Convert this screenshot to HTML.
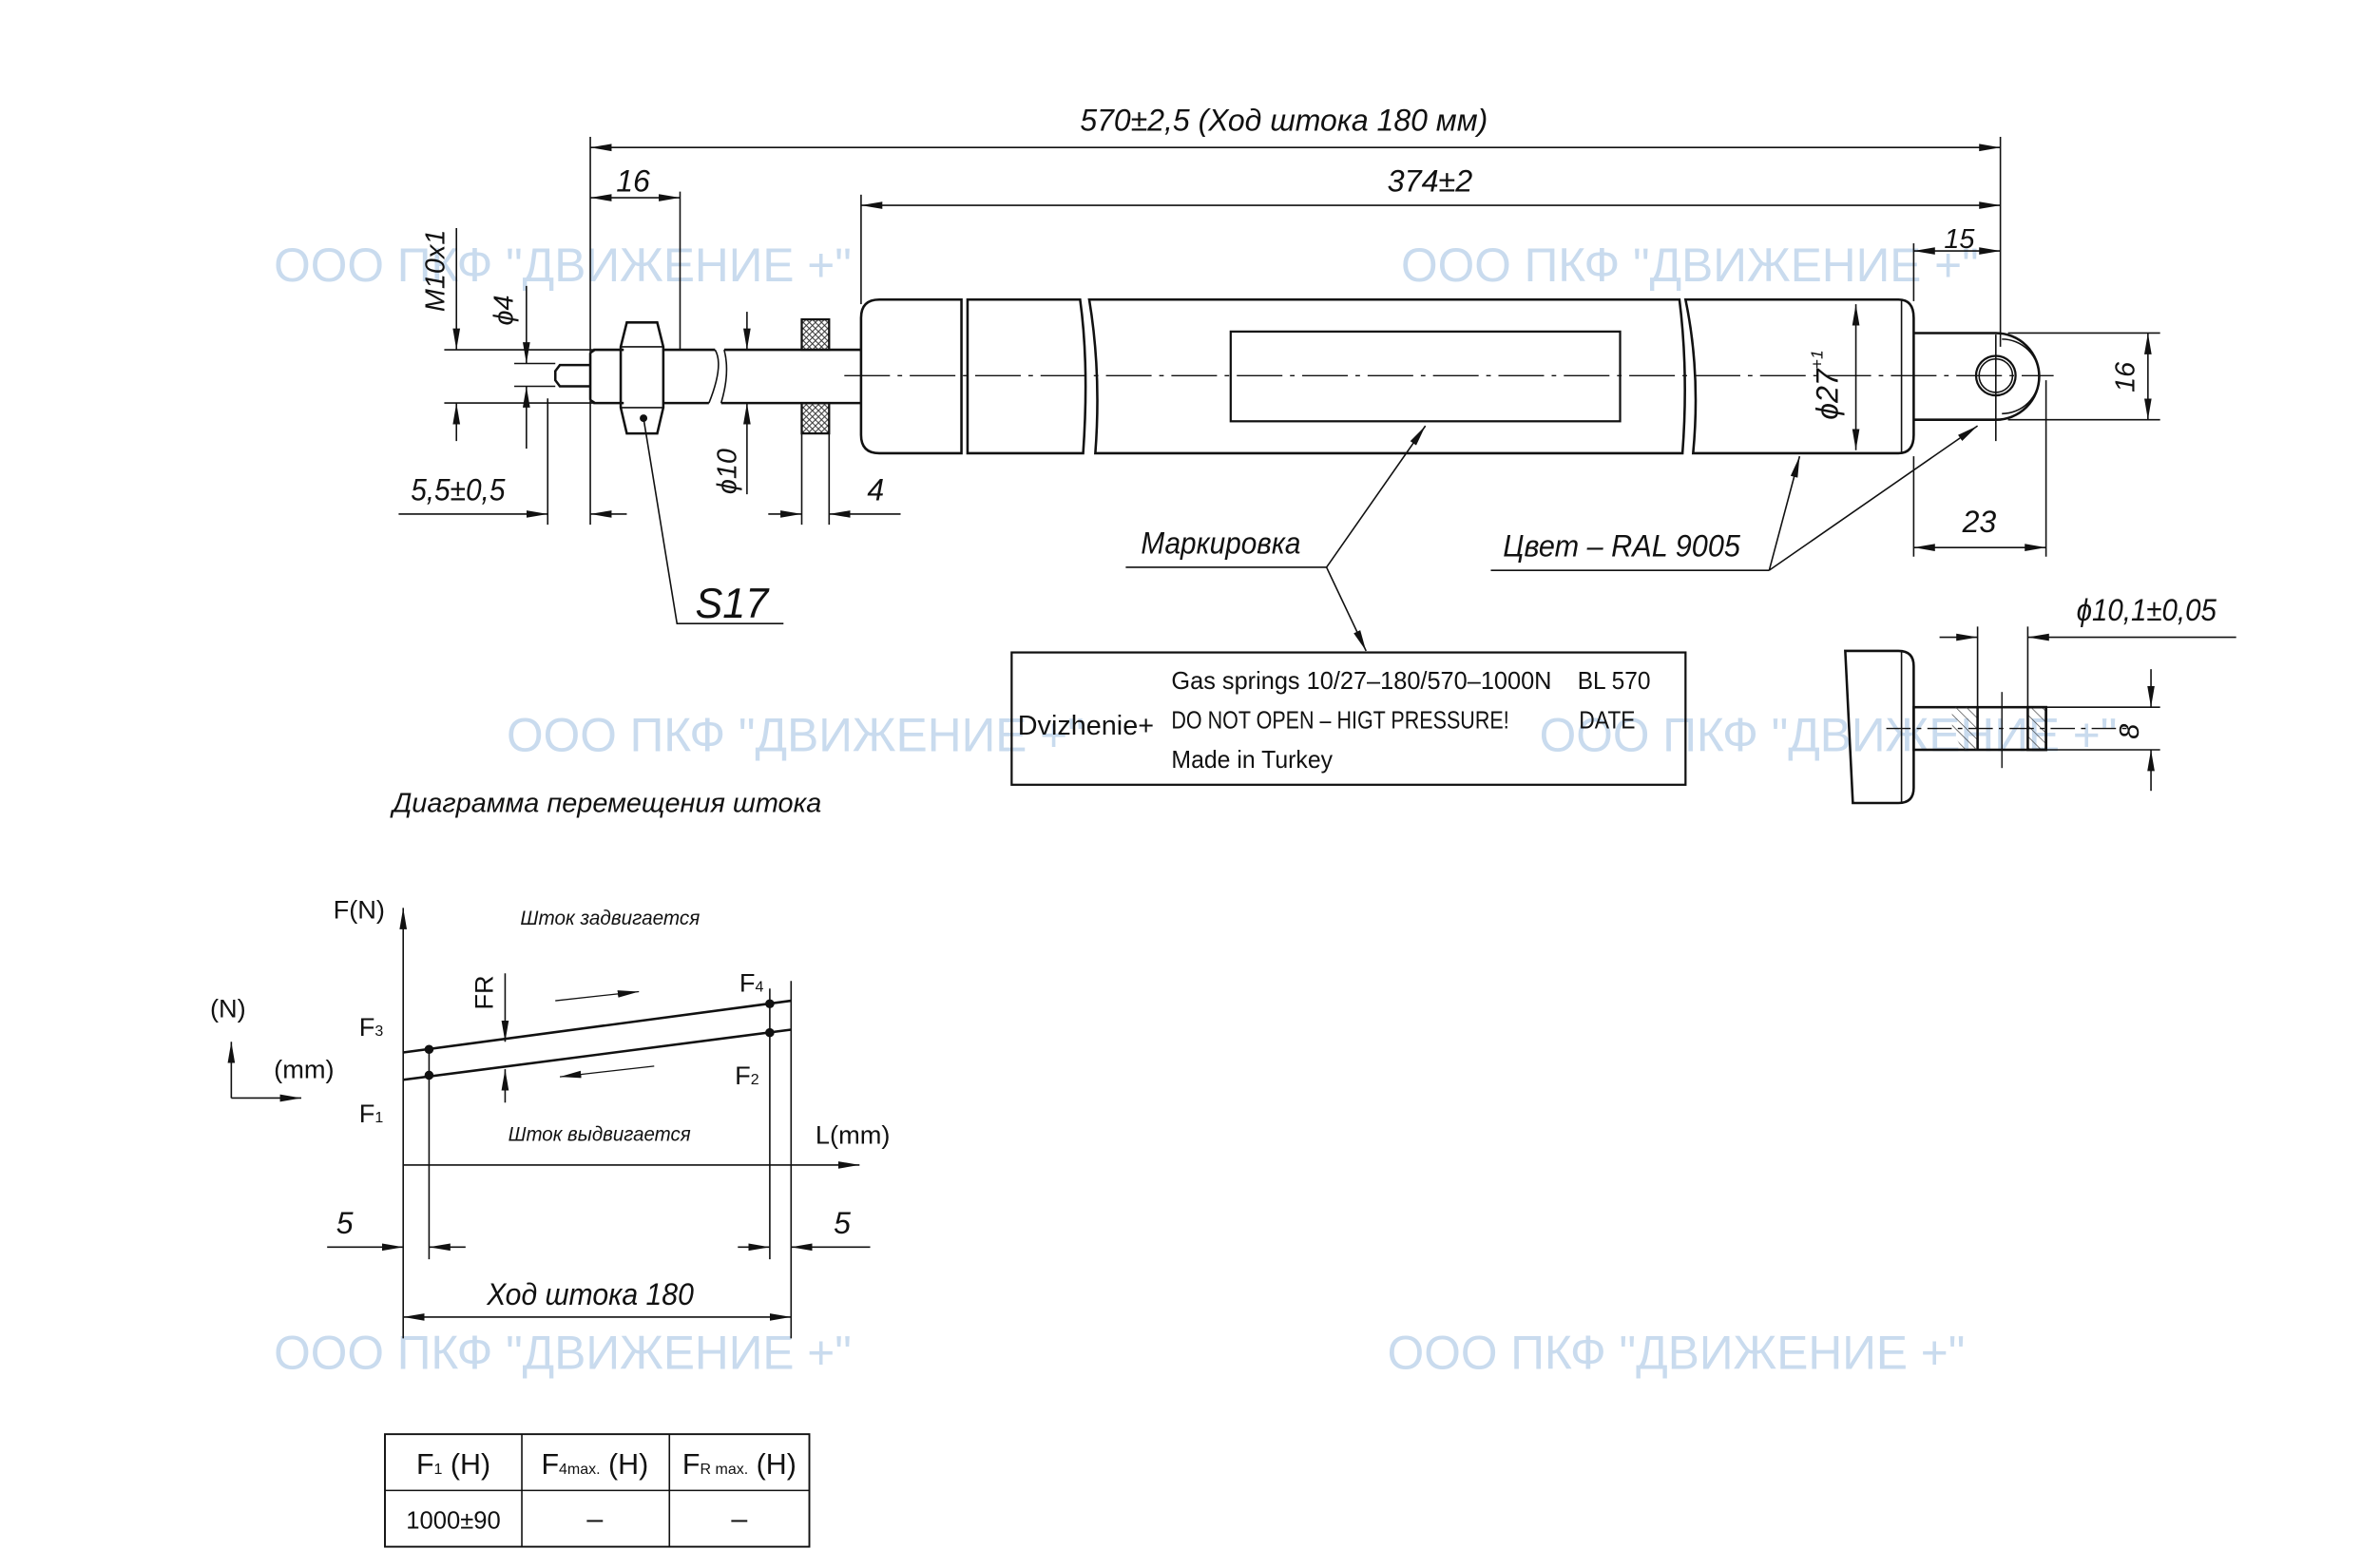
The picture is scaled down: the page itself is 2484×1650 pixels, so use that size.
<!DOCTYPE html>
<html><head><meta charset="utf-8"><style>
html,body{margin:0;padding:0;background:#fff;width:2484px;height:1650px;overflow:hidden}
svg{display:block}
text{font-family:"Liberation Sans","DejaVu Sans",sans-serif;fill:#111}
.i{font-style:italic}
.wm text{fill:#c9dbee;font-size:31px}
</style></head><body>
<svg width="2484" height="1650" viewBox="0 0 1552 1031" xmlns="http://www.w3.org/2000/svg">
<defs>
<marker id="a" viewBox="0 0 14 6" refX="14" refY="3" markerWidth="14" markerHeight="6" markerUnits="userSpaceOnUse" orient="auto-start-reverse"><path d="M0,0.6 L14,3 L0,5.4 Z" fill="#111"/></marker>
<pattern id="h" width="5" height="5" patternUnits="userSpaceOnUse" patternTransform="rotate(-45)"><line x1="0" y1="0" x2="0" y2="5" stroke="#333" stroke-width="0.8"/></pattern>
<pattern id="x" width="4" height="4" patternUnits="userSpaceOnUse"><path d="M0,0 L4,4 M4,0 L0,4" stroke="#333" stroke-width="0.6"/></pattern>
</defs>

<!-- watermarks -->
<g class="wm">
<text x="180" y="185">ООО ПКФ "ДВИЖЕНИЕ +"</text>
<text x="921" y="185">ООО ПКФ "ДВИЖЕНИЕ +"</text>
<text x="333" y="494">ООО ПКФ "ДВИЖЕНИЕ +"</text>
<text x="1012" y="494">ООО ПКФ "ДВИЖЕНИЕ +"</text>
<text x="180" y="900">ООО ПКФ "ДВИЖЕНИЕ +"</text>
<text x="912" y="900">ООО ПКФ "ДВИЖЕНИЕ +"</text>
</g>

<g stroke="#111" fill="none" stroke-width="1">
<line x1="388" y1="97" x2="1315" y2="97" marker-start="url(#a)" marker-end="url(#a)"/>
<line x1="388" y1="90" x2="388" y2="345"/>
<line x1="1315" y1="90" x2="1315" y2="228"/>
<line x1="566" y1="135" x2="1315" y2="135" marker-start="url(#a)" marker-end="url(#a)"/>
<line x1="566" y1="128" x2="566" y2="200"/>
<line x1="388" y1="130" x2="447" y2="130" marker-start="url(#a)" marker-end="url(#a)"/>
<line x1="447" y1="126" x2="447" y2="230"/>
<line x1="300" y1="150" x2="300" y2="230" marker-end="url(#a)"/>
<line x1="300" y1="290" x2="300" y2="265" marker-end="url(#a)"/>
<line x1="292" y1="230" x2="405" y2="230"/>
<line x1="292" y1="265" x2="405" y2="265"/>
<line x1="346" y1="188" x2="346" y2="239" marker-end="url(#a)"/>
<line x1="346" y1="295" x2="346" y2="254" marker-end="url(#a)"/>
<line x1="338" y1="239" x2="365" y2="239"/>
<line x1="338" y1="254" x2="365" y2="254"/>
<path d="M388,240 H368 L365,244 V250 L368,254 H388" stroke-width="1.6"/>
<path d="M390,230 H410 M390,265 H410 M388,232 V263 M388,232 L391,230 M388,263 L391,265" stroke-width="1.6"/>
<path d="M412,212 L432,212 L436,228 L436,268 L432,285 L412,285 L408,268 L408,228 Z" stroke-width="1.6"/>
<line x1="408" y1="228" x2="436" y2="228"/><line x1="408" y1="268" x2="436" y2="268"/>
<circle cx="423" cy="275" r="2" fill="#111"/>
<path d="M436,230 H470 M436,265 H466 M476,230 H566 M474,265 H566" stroke-width="1.6"/>
<path d="M470,230 Q476,240 466,265 M476,230 Q480,245 474,265"/>
<rect x="527" y="210" width="18" height="20" fill="url(#x)" stroke-width="1.4"/>
<rect x="527" y="265" width="18" height="20" fill="url(#x)" stroke-width="1.4"/>
<line x1="491" y1="205" x2="491" y2="230" marker-end="url(#a)"/>
<line x1="491" y1="325" x2="491" y2="265" marker-end="url(#a)"/>
<line x1="262" y1="338" x2="360" y2="338" marker-end="url(#a)"/>
<line x1="360" y1="262" x2="360" y2="345"/>
<line x1="412" y1="338" x2="388" y2="338" marker-end="url(#a)"/>
<line x1="505" y1="338" x2="527" y2="338" marker-end="url(#a)"/>
<line x1="592" y1="338" x2="545" y2="338" marker-end="url(#a)"/>
<line x1="527" y1="285" x2="527" y2="345"/><line x1="545" y1="285" x2="545" y2="345"/>
<polyline points="423,275 445,410 515,410"/>

<path d="M632,197 H578 Q566,197 566,209 V286 Q566,298 578,298 H632 Z" stroke-width="1.6"/>
<path d="M636,197 H710 Q716,240 712,298 H636 Z" stroke-width="1.6"/>
<path d="M716,197 H1104 Q1110,245 1106,298 H720 Q724,245 716,197 Z" stroke-width="1.6"/>
<path d="M1108,197 H1248 Q1258,197 1258,209 V286 Q1258,298 1248,298 H1113 Q1118,245 1108,197 Z" stroke-width="1.6"/>
<line x1="1250" y1="197" x2="1250" y2="298"/>
<rect x="809" y="218" width="256" height="59" stroke-width="1.4"/>
<line x1="555" y1="247" x2="1350" y2="247" stroke-dasharray="30,5,3,5" stroke-width="0.9"/>
<line x1="1220" y1="200" x2="1220" y2="296" marker-start="url(#a)" marker-end="url(#a)"/>
<path d="M1258,219 H1312 A28,28 0 0 1 1312,276 H1258" stroke-width="1.6"/>
<path d="M1316,223 A24,24 0 0 1 1316,272"/>
<circle cx="1312" cy="247" r="13" stroke-width="1.4"/>
<circle cx="1312" cy="247" r="11"/>
<line x1="1312" y1="220" x2="1312" y2="290"/>
<line x1="1320" y1="219" x2="1420" y2="219"/>
<line x1="1320" y1="276" x2="1420" y2="276"/>
<line x1="1412" y1="219" x2="1412" y2="276" marker-start="url(#a)" marker-end="url(#a)"/>
<line x1="1258" y1="160" x2="1258" y2="198"/>
<line x1="1258" y1="165" x2="1315" y2="165" marker-start="url(#a)" marker-end="url(#a)"/>
<line x1="1258" y1="300" x2="1258" y2="366"/>
<line x1="1345" y1="250" x2="1345" y2="366"/>
<line x1="1258" y1="360" x2="1345" y2="360" marker-start="url(#a)" marker-end="url(#a)"/>
<polyline points="980,375 1163,375"/>
<line x1="1163" y1="375" x2="1183" y2="300" marker-end="url(#a)"/>
<line x1="1163" y1="375" x2="1300" y2="280" marker-end="url(#a)"/>
<polyline points="740,373 872,373"/>
<line x1="872" y1="373" x2="937" y2="280" marker-end="url(#a)"/>
<line x1="872" y1="373" x2="898" y2="428" marker-end="url(#a)"/>
<rect x="665" y="429" width="443" height="87" stroke-width="1.4"/>

<path d="M1213,428 H1248 Q1258,428 1258,438 V518 Q1258,528 1248,528 H1218 Z" stroke-width="1.6"/>
<line x1="1250" y1="428" x2="1250" y2="528"/>
<rect x="1258" y="465" width="87" height="28" stroke-width="1.6"/>
<path d="M1300,465 H1284 Q1280,480 1291,493 H1300 Z" fill="url(#h)" stroke="none"/>
<line x1="1300" y1="465" x2="1300" y2="493" stroke-width="1.6"/>
<rect x="1333" y="465" width="12" height="28" fill="url(#h)" stroke-width="1.6"/>
<line x1="1240" y1="479" x2="1400" y2="479" stroke-dasharray="16,4,3,4" stroke-width="0.9"/>
<line x1="1316" y1="455" x2="1316" y2="505" stroke-width="0.9"/>
<line x1="1300" y1="412" x2="1300" y2="465"/>
<line x1="1333" y1="412" x2="1333" y2="465"/>
<line x1="1275" y1="419" x2="1300" y2="419" marker-end="url(#a)"/>
<line x1="1470" y1="419" x2="1333" y2="419" marker-end="url(#a)"/>
<line x1="1345" y1="465" x2="1420" y2="465"/>
<line x1="1345" y1="493" x2="1420" y2="493"/>
<line x1="1414" y1="440" x2="1414" y2="465" marker-end="url(#a)"/>
<line x1="1414" y1="520" x2="1414" y2="493" marker-end="url(#a)"/>

<line x1="265" y1="880" x2="265" y2="597" marker-end="url(#a)"/>
<line x1="265" y1="766" x2="565" y2="766" marker-end="url(#a)"/>
<line x1="265" y1="692" x2="520" y2="658" stroke-width="1.6"/>
<line x1="265" y1="710" x2="520" y2="677" stroke-width="1.6"/>
<circle cx="282" cy="690" r="2.5" fill="#111"/><circle cx="282" cy="707" r="2.5" fill="#111"/>
<circle cx="506" cy="660" r="2.5" fill="#111"/><circle cx="506" cy="679" r="2.5" fill="#111"/>
<line x1="282" y1="690" x2="282" y2="828"/>
<line x1="506" y1="650" x2="506" y2="828"/>
<line x1="520" y1="645" x2="520" y2="880"/>
<line x1="332" y1="640" x2="332" y2="685" marker-end="url(#a)"/>
<line x1="332" y1="725" x2="332" y2="703" marker-end="url(#a)"/>
<line x1="365" y1="658" x2="420" y2="652" marker-end="url(#a)" stroke-width="0.8"/>
<line x1="430" y1="701" x2="368" y2="708" marker-end="url(#a)" stroke-width="0.8"/>
<line x1="152" y1="722" x2="152" y2="685" marker-end="url(#a)"/>
<line x1="152" y1="722" x2="198" y2="722" marker-end="url(#a)"/>
<line x1="215" y1="820" x2="265" y2="820" marker-end="url(#a)"/>
<line x1="306" y1="820" x2="282" y2="820" marker-end="url(#a)"/>
<line x1="485" y1="820" x2="506" y2="820" marker-end="url(#a)"/>
<line x1="572" y1="820" x2="520" y2="820" marker-end="url(#a)"/>
<line x1="265" y1="866" x2="520" y2="866" marker-start="url(#a)" marker-end="url(#a)"/>

<rect x="253" y="943" width="279" height="74" stroke-width="1.2"/>
<line x1="253" y1="980" x2="532" y2="980"/>
<line x1="343" y1="943" x2="343" y2="1017"/>
<line x1="440" y1="943" x2="440" y2="1017"/>
</g>

<g class="i" font-size="20">
<text x="710" y="86" textLength="268" lengthAdjust="spacingAndGlyphs">570±2,5   (Ход штока 180 мм)</text>
<text x="912" y="126" textLength="56" lengthAdjust="spacingAndGlyphs">374±2</text>
<text x="405" y="126">16</text>
<text x="1278" y="163" font-size="18">15</text>
<text x="270" y="329" textLength="62" lengthAdjust="spacingAndGlyphs">5,5±0,5</text>
<text x="570" y="329">4</text>
<text x="457" y="406" font-size="28" textLength="48" lengthAdjust="spacingAndGlyphs">S17</text>
<text x="1290" y="350">23</text>
<text x="750" y="364" textLength="105" lengthAdjust="spacingAndGlyphs">Маркировка</text>
<text x="988" y="366" textLength="156" lengthAdjust="spacingAndGlyphs">Цвет – RAL  9005</text>
<text x="1365" y="408" textLength="92" lengthAdjust="spacingAndGlyphs">ϕ10,1±0,05</text>
<text transform="translate(292,205) rotate(-90)" font-size="18">M10x1</text>
<text transform="translate(337,214) rotate(-90)" font-size="18">ϕ4</text>
<text transform="translate(484,325) rotate(-90)" font-size="18">ϕ10</text>
<text transform="translate(1208,276) rotate(-90)" font-size="20">ϕ27<tspan font-size="11" dy="-10">+1</tspan></text>
<text transform="translate(1403,258) rotate(-90)" font-size="18">16</text>
<text transform="translate(1406,486) rotate(-90)" font-size="18">8</text>
<text x="258" y="534" font-size="18" textLength="282" lengthAdjust="spacingAndGlyphs">Диаграмма перемещения штока</text>
<text x="342" y="608" font-size="13" textLength="118" lengthAdjust="spacingAndGlyphs">Шток задвигается</text>
<text x="334" y="750" font-size="13" textLength="120" lengthAdjust="spacingAndGlyphs">Шток выдвигается</text>
<text x="221" y="811">5</text>
<text x="548" y="811">5</text>
<text x="320" y="858" textLength="136" lengthAdjust="spacingAndGlyphs">Ход штока 180</text>
</g>
<g font-size="17">
<text x="219" y="604">F(N)</text>
<text x="536" y="752">L(mm)</text>
<text x="138" y="669">(N)</text>
<text x="180" y="709">(mm)</text>
<text x="236" y="681">F<tspan font-size="10">3</tspan></text>
<text x="236" y="738">F<tspan font-size="10">1</tspan></text>
<text x="486" y="652">F<tspan font-size="10">4</tspan></text>
<text x="483" y="713">F<tspan font-size="10">2</tspan></text>
<text transform="translate(324,664) rotate(-90)">FR</text>
</g>
<g font-size="16">
<text x="669" y="483" font-size="18">Dvizhenie+</text>
<text x="770" y="453" textLength="250" lengthAdjust="spacingAndGlyphs">Gas springs 10/27–180/570–1000N</text>
<text x="1037" y="453" textLength="48" lengthAdjust="spacingAndGlyphs">BL 570</text>
<text x="770" y="479" textLength="222" lengthAdjust="spacingAndGlyphs">DO NOT OPEN – HIGT PRESSURE!</text>
<text x="1038" y="479" textLength="37" lengthAdjust="spacingAndGlyphs">DATE</text>
<text x="770" y="505" textLength="106" lengthAdjust="spacingAndGlyphs">Made in Turkey</text>
</g>
<g font-size="19" text-anchor="middle">
<text x="298" y="969">F<tspan font-size="10">1</tspan>  (H)</text>
<text x="391" y="969">F<tspan font-size="10">4max.</tspan> (H)</text>
<text x="486" y="969">F<tspan font-size="10">R max.</tspan> (H)</text>
<text x="298" y="1005" font-size="16">1000±90</text>
<text x="391" y="1005">–</text>
<text x="486" y="1005">–</text>
</g>
</svg>
</body></html>
